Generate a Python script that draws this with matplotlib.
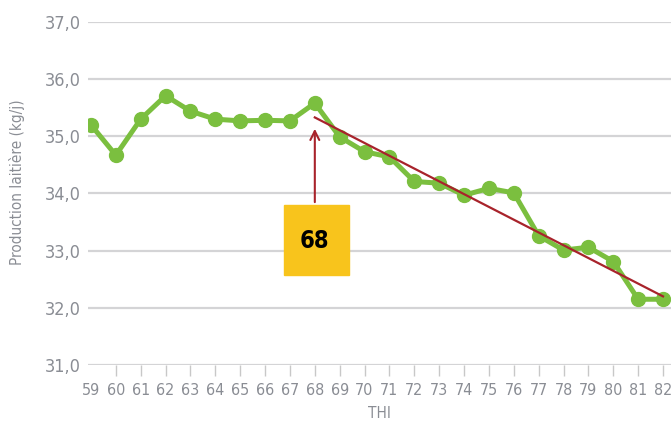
import matplotlib
matplotlib.use('Agg')
import matplotlib.pyplot as plt
from matplotlib.patches import Rectangle
from matplotlib.ticker import FuncFormatter

plt.rcParams['font.family'] = ['DejaVu Sans']
plt.rcParams['font.stretch'] = 'condensed'

# THI values and daily milk production (kg/j)
thi = [59, 60, 61, 62, 63, 64, 65, 66, 67, 68, 69, 70,
       71, 72, 73, 74, 75, 76, 77, 78, 79, 80, 81, 82]
production = [35.20, 34.67, 35.30, 35.71, 35.44, 35.30, 35.27, 35.28, 35.27, 35.58, 34.99, 34.73,
              34.64, 34.21, 34.18, 33.97, 34.09, 34.01, 33.26, 33.01, 33.06, 32.81, 32.15, 32.15]

# trend line after the threshold
trend_x = [68, 82]
trend_y = [35.33, 32.20]

threshold = 68

green = '#7bbf3f'
red = '#a8232b'
yellow = '#f8c41c'
grey_txt = '#8a8d94'

fig = plt.figure(figsize=(6.71, 4.23), dpi=100)
ax = fig.add_axes([0.1311, 0.1371, 0.8689, 0.811])

ax.set_xlim(58.88, 82.32)
ax.set_ylim(31, 37)

ax.set_yticks([31, 32, 33, 34, 35, 36, 37])
ax.yaxis.set_major_formatter(FuncFormatter(lambda v, p: f'{v:.1f}'.replace('.', ',')))
ax.grid(axis='y', color='#d4d4d6', lw=1.6)
ax.set_axisbelow(True)
for s in ax.spines.values():
    s.set_visible(False)

ax.set_xticks(thi)
ax.set_xticklabels([str(t) for t in thi])
ax.tick_params(axis='y', length=0, pad=5, labelsize=13, labelcolor=grey_txt)
ax.tick_params(axis='x', length=8, width=1, color='#c8c8c8', pad=5,
               labelsize=11.5, labelcolor=grey_txt)
ax.xaxis.get_major_ticks()[0].tick1line.set_visible(False)

ax.plot(thi, production, color=green, lw=3.6, marker='o', ms=10, zorder=3)
ax.plot(trend_x, trend_y, color=red, lw=1.6, zorder=4)

ax.add_patch(Rectangle((66.75, 32.57), 2.61, 1.23, color=yellow, zorder=5))
ax.text(threshold, 33.17, str(threshold), ha='center', va='center',
        fontsize=17, fontweight='bold', color='black', zorder=6)
ax.annotate('', xy=(threshold, 35.18), xytext=(threshold, 33.80),
            arrowprops=dict(arrowstyle='->', color=red, lw=1.5, mutation_scale=16),
            zorder=6)

ax.set_xlabel('THI', fontsize=11, color=grey_txt, labelpad=6)
fig.text(0.025, 0.57, 'Production laitière (kg/j)', rotation=90, ha='center', va='center',
         fontsize=11, color=grey_txt)

fig.savefig('out.png', dpi=100)
